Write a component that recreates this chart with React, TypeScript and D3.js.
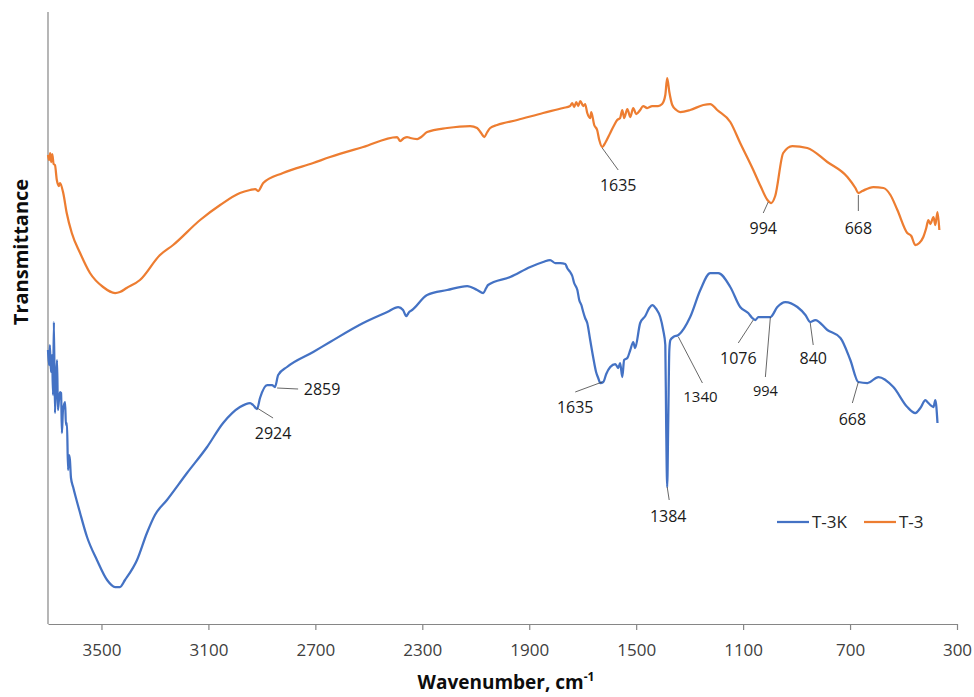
import { useEffect, useRef } from "react";
import * as d3 from "d3";

// T-3 (orange) spectrum, wavenumber cm-1 and transmittance (a.u.)
const t3Wavenumber = [
  3700, 3696, 3692, 3688, 3684, 3679, 3674, 3667, 3659, 3655, 3643, 3630, 3611, 3580, 3543, 3494, 3449, 3431, 3406,
  3356, 3281, 3232, 3131, 3056, 2982, 2944, 2925, 2914, 2895, 2821, 2708, 2645, 2521, 2394, 2383, 2368, 2357, 2345,
  2319, 2304, 2282, 2207, 2121, 2095, 2080, 2068, 2057, 2046, 2020, 1945, 1848, 1773, 1747, 1739, 1732, 1724, 1717,
  1709, 1698, 1691, 1683, 1672, 1668, 1657, 1646, 1638, 1627, 1616, 1597, 1582, 1571, 1560, 1552, 1545, 1533, 1522,
  1511, 1500, 1485, 1474, 1459, 1440, 1418, 1403, 1391, 1384, 1376, 1365, 1350, 1335, 1298, 1249, 1223, 1197, 1148,
  1111, 1062, 1035, 1009, 995, 980, 950, 916, 860, 785, 710, 680, 669, 654, 613, 575, 549, 523, 486, 471, 456, 441,
  426, 415, 407, 400, 388, 381, 373, 366,
];
const t3Values = [
  46.9, 46.4, 47.1, 46.2, 47.0, 46.0, 45.9, 44.4, 43.8, 44.1, 43.1, 41.1, 39.1, 37.1, 35.1, 33.7, 33.1, 33.2, 33.6,
  34.4, 36.9, 37.9, 40.4, 41.9, 43.1, 43.4, 43.5, 43.3, 44.1, 45.1, 46.1, 46.7, 47.7, 48.7, 48.3, 48.6, 48.7, 48.6,
  48.5, 48.7, 49.2, 49.6, 49.8, 49.6, 49.1, 48.7, 49.2, 49.6, 49.9, 50.4, 51.1, 51.6, 51.8, 52.1, 51.7, 52.2, 51.8,
  52.3, 51.8, 52.0, 51.1, 50.6, 51.2, 49.9, 49.4, 48.4, 47.7, 48.1, 49.1, 49.9, 50.4, 50.6, 51.4, 50.6, 51.5, 50.7,
  51.6, 51.0, 51.4, 51.8, 51.6, 51.8, 51.8, 52.0, 52.9, 54.6, 53.2, 51.9, 51.4, 51.2, 51.4, 51.9, 52.0, 51.4, 50.2,
  48.1, 45.4, 43.8, 42.4, 42.1, 42.8, 47.1, 47.8, 47.6, 46.2, 44.7, 43.6, 43.1, 43.3, 43.7, 43.6, 42.9, 41.4, 39.1,
  38.8, 37.9, 38.1, 38.7, 39.6, 40.4, 40.0, 40.7, 39.9, 41.2, 39.4,
];

// T-3K (blue) spectrum
const t3kWavenumber = [
  3700, 3696, 3693, 3689, 3685, 3681, 3678, 3674, 3670, 3666, 3663, 3659, 3655, 3651, 3648, 3644, 3636, 3633, 3629,
  3625, 3621, 3618, 3614, 3606, 3580, 3554, 3517, 3479, 3449, 3431, 3412, 3367, 3330, 3300, 3255, 3180, 3105, 3045,
  2982, 2944, 2933, 2918, 2907, 2880, 2862, 2851, 2839, 2806, 2708, 2645, 2521, 2431, 2390, 2372, 2360, 2349, 2338,
  2282, 2207, 2132, 2095, 2072, 2061, 2054, 1971, 1896, 1848, 1822, 1803, 1784, 1765, 1758, 1747, 1739, 1732, 1720,
  1713, 1705, 1698, 1691, 1683, 1672, 1661, 1650, 1642, 1634, 1623, 1612, 1597, 1578, 1567, 1560, 1552, 1545, 1533,
  1522, 1511, 1504, 1485, 1466, 1451, 1440, 1425, 1410, 1399, 1391, 1388, 1384, 1380, 1376, 1372, 1361, 1342, 1298,
  1260, 1223, 1193, 1148, 1111, 1081, 1066, 1054, 1043, 1024, 998, 972, 942, 897, 867, 849, 830, 785, 736, 699, 669,
  635, 594, 538, 486, 456, 437, 418, 411, 400, 388, 381, 373,
];
const t3kValues = [
  27.4, 25.9, 27.9, 25.2, 26.9, 22.9, 30.2, 21.1, 24.4, 26.4, 21.4, 22.4, 23.2, 23.1, 19.1, 21.4, 22.2, 19.9, 20.1,
  15.4, 16.9, 16.4, 14.6, 13.7, 11.1, 8.7, 6.4, 4.4, 3.7, 3.7, 4.4, 6.4, 9.1, 10.9, 12.4, 15.1, 17.7, 20.1, 21.7,
  22.1, 21.9, 21.5, 22.6, 23.9, 23.9, 23.7, 24.9, 25.7, 27.2, 28.2, 30.1, 31.2, 31.7, 31.4, 30.8, 31.2, 31.4, 32.9,
  33.4, 33.8, 33.4, 33.1, 33.6, 33.9, 34.7, 35.7, 36.2, 36.4, 36.1, 36.1, 36.0, 35.6, 35.2, 34.8, 34.1, 33.4, 32.4,
  31.9, 31.2, 30.6, 30.1, 28.4, 26.7, 25.2, 24.6, 24.1, 24.2, 25.0, 25.7, 26.0, 25.6, 26.1, 24.7, 26.4, 26.6, 27.4,
  28.2, 27.6, 30.1, 30.8, 31.6, 31.9, 31.5, 30.7, 29.4, 27.9, 20.4, 13.7, 20.4, 27.4, 28.4, 28.7, 28.9, 30.7, 33.4,
  35.1, 35.1, 33.7, 31.7, 31.1, 30.6, 30.4, 30.7, 30.7, 30.7, 31.7, 32.2, 31.7, 30.9, 30.2, 30.4, 29.4, 28.6, 26.4,
  24.2, 24.1, 24.7, 23.7, 21.7, 21.1, 21.6, 22.4, 22.2, 21.9, 21.7, 22.4, 20.1,
];

const xTicks = [3500, 3100, 2700, 2300, 1900, 1500, 1100, 700, 300];

// peak labels: series, anchor wavenumber/value, leader end offset, label offset
const peakLabels = [
  { s: "t3", text: "1635", wn: 1627, v: 47.6, lx: 16, ly: 22, tx: 16, ty: 37, size: 16 },
  { s: "t3", text: "994", wn: 1006, v: 42.2, lx: -5, ly: 11, tx: -5, ty: 26, size: 16 },
  { s: "t3", text: "668", wn: 669, v: 42.9, lx: 0, ly: 16, tx: 0, ty: 33, size: 16 },
  { s: "t3k", text: "2924", wn: 2918, v: 21.6, lx: 16, ly: 10, tx: 16, ty: 25, size: 16 },
  { s: "t3k", text: "2859", wn: 2843, v: 23.6, lx: 21, ly: 1, tx: 45, ty: 1, size: 16 },
  { s: "t3k", text: "1635", wn: 1627, v: 24.2, lx: -27, ly: 10, tx: -27, ty: 25, size: 16 },
  { s: "t3k", text: "1384", wn: 1384, v: 13.7, lx: 2, ly: 13, tx: 1, ty: 29, size: 16 },
  { s: "t3k", text: "1340", wn: 1342, v: 28.7, lx: 24, ly: 46, tx: 22, ty: 60, size: 15 },
  { s: "t3k", text: "1076", wn: 1062, v: 30.4, lx: -15, ly: 23, tx: -15, ty: 38, size: 16 },
  { s: "t3k", text: "994", wn: 998, v: 30.7, lx: -5, ly: 60, tx: -5, ty: 74, size: 14.5 },
  { s: "t3k", text: "840", wn: 849, v: 30.1, lx: 3, ly: 22, tx: 3, ty: 35, size: 16 },
  { s: "t3k", text: "668", wn: 669, v: 24.2, lx: -6, ly: 21, tx: -6, ty: 37, size: 16 },
];

const seriesNames = ["T-3K", "T-3"];
const colors = ["#4472C4", "#ED7D31"];

export default function App() {
  const ref = useRef<SVGSVGElement>(null);

  useEffect(() => {
    const width = 974;
    const height = 697;
    const margin = { left: 48, right: 17, top: 12, bottom: 73 };
    const font = "'Open Sans', sans-serif";

    const svg = d3.select(ref.current);
    svg.selectAll("*").remove();

    const x = d3.scaleLinear().domain([3700, 300]).range([margin.left, width - margin.right]);
    const y = d3.scaleLinear().domain([0, 61.2]).range([height - margin.bottom, margin.top]);

    const axisColor = "#868686";

    // x axis
    const xAxis = svg
      .append("g")
      .attr("transform", `translate(0,${height - margin.bottom})`)
      .call(
        d3
          .axisBottom(x)
          .tickValues(xTicks)
          .tickFormat(d3.format("d"))
          .tickSize(6)
          .tickSizeOuter(0)
      );
    xAxis.select(".domain").attr("stroke", axisColor).attr("stroke-width", 1.2);
    xAxis.selectAll(".tick line").attr("stroke", axisColor).attr("stroke-width", 1.2);
    xAxis
      .selectAll(".tick text")
      .attr("y", 20)
      .attr("fill", "#404040")
      .style("font-family", font)
      .style("font-size", "17px");

    // y axis line only
    svg
      .append("line")
      .attr("x1", margin.left)
      .attr("x2", margin.left)
      .attr("y1", margin.top)
      .attr("y2", height - margin.bottom)
      .attr("stroke", axisColor)
      .attr("stroke-width", 1.2);

    const drawSeries = (wn: number[], vals: number[], color: string) => {
      const line = d3
        .line<number>()
        .x((w) => x(w))
        .y((_, i) => y(vals[i]))
        .curve(d3.curveMonotoneX);
      svg
        .append("path")
        .attr("d", line(wn))
        .attr("fill", "none")
        .attr("stroke", color)
        .attr("stroke-width", 2.25)
        .attr("stroke-linejoin", "round");
    };

    drawSeries(t3Wavenumber, t3Values, colors[1]);
    drawSeries(t3kWavenumber, t3kValues, colors[0]);

    // peak labels
    const lab = svg
      .selectAll(".peak")
      .data(peakLabels)
      .enter()
      .append("g")
      .attr("class", "peak")
      .attr("transform", (d) => `translate(${x(d.wn)},${y(d.v)})`);
    lab
      .append("line")
      .attr("x1", 0)
      .attr("y1", 0)
      .attr("x2", (d) => d.lx)
      .attr("y2", (d) => d.ly)
      .attr("stroke", "#404040")
      .attr("stroke-width", 0.8);
    lab
      .append("text")
      .attr("x", (d) => d.tx)
      .attr("y", (d) => d.ty)
      .attr("dy", "0.35em")
      .attr("text-anchor", "middle")
      .style("font-family", font)
      .style("font-size", (d) => `${d.size}px`)
      .attr("fill", "#1a1a1a")
      .text((d) => d.text);

    // legend
    const legendX = [777, 864];
    const legend = svg
      .selectAll(".legend")
      .data(seriesNames)
      .enter()
      .append("g")
      .attr("class", "legend")
      .attr("transform", (_, i) => `translate(${legendX[i]},522)`);
    legend
      .append("line")
      .attr("x1", 0)
      .attr("x2", 32)
      .attr("stroke", (_, i) => colors[i])
      .attr("stroke-width", 2.25);
    legend
      .append("text")
      .attr("x", 35)
      .attr("dy", "0.35em")
      .style("font-family", font)
      .style("font-size", "17px")
      .attr("fill", "#262626")
      .text((d) => d);

    // axis titles
    svg
      .append("text")
      .attr("transform", "translate(28,252) rotate(-90)")
      .attr("text-anchor", "middle")
      .style("font-family", font)
      .style("font-size", "20px")
      .style("font-weight", "bold")
      .attr("fill", "#0d0d0d")
      .text("Transmittance");

    const xt = svg
      .append("text")
      .attr("x", 506)
      .attr("y", 689)
      .attr("text-anchor", "middle")
      .style("font-family", font)
      .style("font-size", "19px")
      .style("font-weight", "bold")
      .attr("fill", "#0d0d0d");
    xt.append("tspan").text("Wavenumber, cm");
    xt.append("tspan").attr("dy", -8).style("font-size", "12px").text("-1");
  }, []);

  return (
    <svg
      ref={ref}
      width={974}
      height={697}
      style={{ position: "absolute", left: 0, top: 0, background: "#fff" }}
    />
  );
}
